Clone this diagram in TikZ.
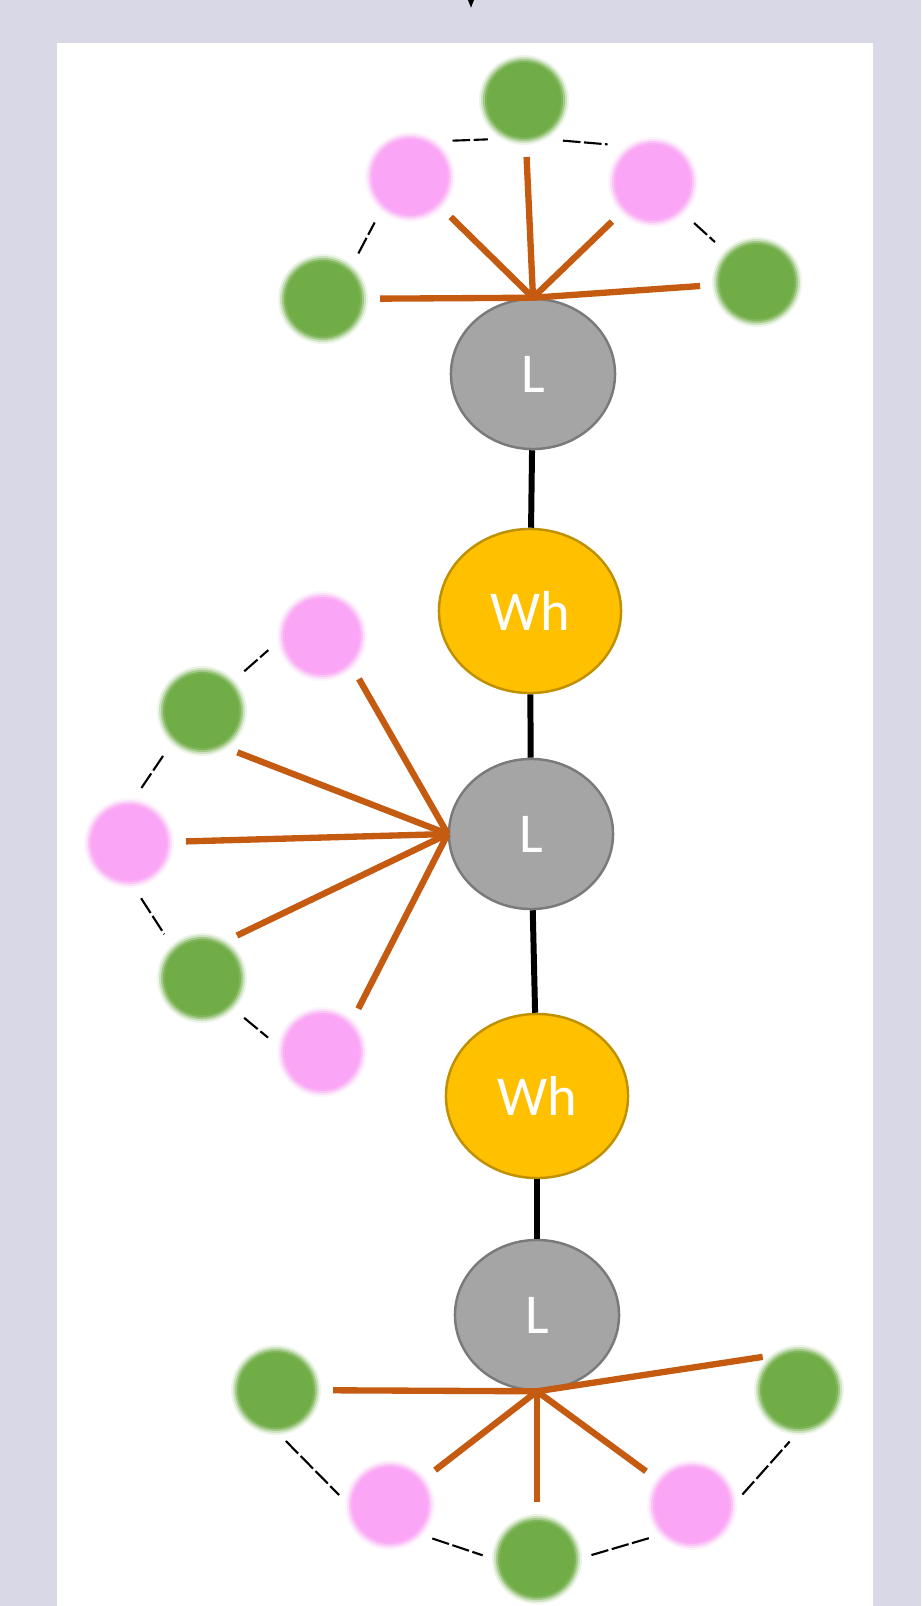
\documentclass[tikz,border=0pt]{standalone}
\usepackage{fontspec}
\setmainfont{Carlito}
\usepackage{tikz}
\usetikzlibrary{shapes.geometric, arrows.meta, positioning}
\definecolor{frame}{RGB}{217,216,231}
\definecolor{lgray}{RGB}{165,165,165}
\definecolor{lgrayline}{RGB}{122,122,122}
\definecolor{whgold}{RGB}{255,192,0}
\definecolor{whline}{RGB}{191,144,0}
\definecolor{mgreen}{RGB}{112,173,71}
\definecolor{mpink}{RGB}{250,165,245}
\definecolor{rust}{RGB}{197,90,17}
% soft edged dot: name, x, y, colour
\newcommand{\blob}[4]{
  \foreach \r/\o in {0.45/0.12,0.43/0.25,0.41/0.45,0.39/0.7,0.37/1}{
    \fill[#4, opacity=\o] (#2,#3) circle (\r cm);
  }
  \path (#2,#3) node (#1) [blobnode] {};
}

\begin{document}
\begin{tikzpicture}[x=0.01cm, y=-0.01cm,
    lnode/.style={ellipse, draw=lgrayline, fill=lgray, line width=0.7pt,
      minimum width=1.64cm, minimum height=1.50cm, text=white,
      font=\fontsize{16}{19}\selectfont},
    whnode/.style={ellipse, draw=whline, fill=whgold, line width=0.7pt,
      minimum width=1.82cm, minimum height=1.64cm, text=white,
      font=\fontsize{16}{19}\selectfont},
    blobnode/.style={circle, inner sep=0pt, outer sep=0pt, minimum size=0.82cm},
    backbone/.style={line width=1.7pt},
    spoke/.style={draw=rust, line width=1.8pt, shorten >=0.16cm},
    hull/.style={line width=0.6pt, dash pattern=on 5pt off 1pt,
      shorten <=#1, shorten >=#1},
    hull/.default=0.17cm]

    % frame
    \useasboundingbox (0,0) rectangle (921,1606);
    \fill[frame] (0,0) rectangle (921,1606);
    \fill[white] (57,43) rectangle (873,1606);

    % incoming arrow, cut off by the frame
    \coordinate (feed) at (471,-40);
    \coordinate (feedtip) at (471,8);
    \draw[line width=1pt, -{Triangle[length=0.22cm, width=0.16cm]}] (feed) -- (feedtip);

    % main chain
    \path (533,374) node (L1) [lnode] {L};
    \path (530,611) node (Wh1) [whnode] {Wh};
    \path (531,834) node (L2) [lnode] {L};
    \path (537,1096) node (Wh2) [whnode] {Wh};
    \path (537,1315) node (L3) [lnode] {L};

    \foreach \u/\v in {L1/Wh1, Wh1/L2, L2/Wh2, Wh2/L3}{
      \draw[backbone] (\u) -- (\v);
    }

    % dots round each L
    \foreach \nm/\px/\py/\cl in {a1/323/299/mgreen, a2/410/177/mpink, a3/524/100/mgreen,
        a4/653/182/mpink, a5/757/282/mgreen,
        b1/322/636/mpink, b2/202/711/mgreen, b3/129/843/mpink,
        b4/202/978/mgreen, b5/322/1052/mpink,
        c1/276/1390/mgreen, c2/390/1505/mpink, c3/537/1559/mgreen,
        c4/692/1505/mpink, c5/799/1390/mgreen}{
      \blob{\nm}{\px}{\py}{\cl}
    }

    % spokes
    \foreach \t in {a1,a2,a3,a4,a5}{
      \draw[spoke] (L1.north) -- (\t);
    }
    \draw[spoke] (L2.west) -- (b1.south east);
    \draw[spoke] (L2.west) -- (b2.300);
    \draw[spoke] (L2.west) -- (b3);
    \draw[spoke] (L2.west) -- (b4.60);
    \draw[spoke] (L2.west) -- (b5.north east);
    \foreach \t in {c1,c2,c3,c4}{
      \draw[spoke] (L3.south) -- (\t);
    }
    \draw[spoke] (L3.south) -- (c5.120);

    % dashed hull between neighbouring dots
    \draw[hull] (a1.48) -- (a2.228);
    \draw[hull=0.22cm] (a2.60) -- (a3.250);
    \draw[hull=0.25cm] (a3.290) -- (a4.120);
    \draw[hull] (a4.314) -- (a5.136);
    \draw[hull] (b2.44) -- (b1.184);
    \draw[hull] (b3.86) -- (b2.226);
    \draw[hull] (b3.274) -- (b4.134);
    \draw[hull] (b4.315) -- (b5.175);
    \draw[hull=0.14cm] (c1.south) -- (c2.west);
    \draw[hull=0.14cm] (c2.315) -- (c3.181);
    \draw[hull=0.14cm] (c3.east) -- (c4.225);
    \draw[hull=0.14cm] (c4.east) -- (c5.south);

\end{tikzpicture}
\end{document}
